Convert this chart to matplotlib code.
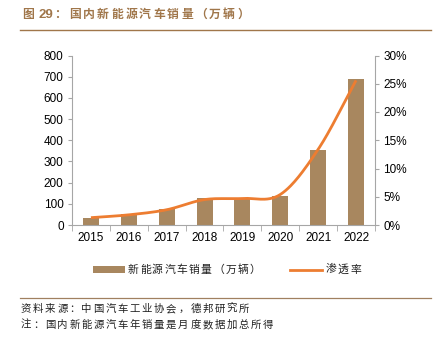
import numpy as np
import matplotlib
matplotlib.use("Agg")
import matplotlib.pyplot as plt
from matplotlib.patches import Rectangle
from matplotlib.lines import Line2D
from matplotlib.ticker import FuncFormatter, FixedLocator

plt.rcParams['font.family'] = ['Liberation Sans', 'Noto Sans CJK SC', 'DejaVu Sans']

years = ["2015", "2016", "2017", "2018", "2019", "2020", "2021", "2022"]
sales = [33.1, 50.7, 77.7, 125.6, 120.6, 136.7, 352.1, 688.7]       # 万辆
penetration = [1.3, 1.8, 2.7, 4.5, 4.7, 5.4, 13.4, 25.6]             # %

title_prefix = "图"
title_number = "29"
title_body = "国内新能源汽车销量（万辆）"
legend_labels = ["新能源汽车销量（万辆）", "渗透率"]
source_note = "资料来源：中国汽车工业协会，德邦研究所"
footnote = "注：国内新能源汽车年销量是月度数据加总所得"

BAR_COLOR = "#A8875F"
LINE_COLOR = "#ED7D31"
TITLE_COLOR = "#A0764A"
AXIS_COLOR = "#A6A6A6"

W, H = 435, 344


def fx(px):
    return px / W


def fy(py):
    return 1 - py / H


def smooth_curve(x, y, n=30):
    """Bezier smoothing through consecutive points (Catmull-Rom tangents)."""
    x = np.asarray(x, float)
    y = np.asarray(y, float)
    px = np.concatenate([[2 * x[0] - x[1]], x, [2 * x[-1] - x[-2]]])
    py = np.concatenate([[2 * y[0] - y[1]], y, [2 * y[-1] - y[-2]]])
    xs, ys = [], []
    t = np.linspace(0, 1, n)
    for i in range(1, len(px) - 2):
        p0, p1, p2, p3 = (np.array([px[j], py[j]]) for j in range(i - 1, i + 3))
        c1 = p1 + (p2 - p0) / 6
        c2 = p2 - (p3 - p1) / 6
        b = ((1 - t) ** 3)[:, None] * p1 + (3 * (1 - t) ** 2 * t)[:, None] * c1 \
            + (3 * (1 - t) * t ** 2)[:, None] * c2 + (t ** 3)[:, None] * p2
        xs.append(b[:, 0])
        ys.append(b[:, 1])
    return np.concatenate(xs), np.concatenate(ys)


def spaced_text(fig, x0, y, s, pitch, **kw):
    """Draw CJK text with a fixed character pitch (pixels)."""
    for i, ch in enumerate(s):
        fig.text(fx(x0 + i * pitch + pitch / 2), fy(y), ch, ha='center', va='center', **kw)


fig = plt.figure(figsize=(W / 100, H / 100), dpi=100)
ax = fig.add_axes([fx(72), fy(225), fx(375) - fx(72), fy(55.5) - fy(225)])
ax2 = ax.twinx()

x = np.arange(len(years))
ax.bar(x, sales, width=0.42, color=BAR_COLOR, zorder=2)
ax.set_xlim(-0.5, len(years) - 0.5)
ax.set_ylim(0, 800)
ax.set_yticks(range(0, 801, 100))
ax.set_xticks(x)
ax.set_xticklabels(years)
ax.xaxis.set_minor_locator(FixedLocator(np.arange(-0.5, len(years), 1.0)))
ax.tick_params(axis='x', which='major', length=0, pad=5, labelsize=8.5)
ax.tick_params(axis='x', which='minor', length=4, color=AXIS_COLOR, direction='out')
ax.tick_params(axis='y', length=3, color=AXIS_COLOR, labelsize=8.5, pad=3)

sx, sy = smooth_curve(x, penetration)
ax2.plot(sx, sy, color=LINE_COLOR, lw=2.0, zorder=3, solid_capstyle='butt')
ax2.set_ylim(0, 30)
ax2.set_yticks(range(0, 31, 5))
ax2.yaxis.set_major_formatter(FuncFormatter(lambda v, p: f"{int(v)}%"))
ax2.tick_params(axis='y', length=3, color=AXIS_COLOR, labelsize=8.5, pad=3)

for a in (ax, ax2):
    a.spines["top"].set_visible(False)
    for s in ("left", "right", "bottom"):
        a.spines[s].set_color(AXIS_COLOR)
        a.spines[s].set_linewidth(0.8)
ax.spines["right"].set_visible(False)
ax2.spines["left"].set_visible(False)
ax2.spines["bottom"].set_visible(False)

# Title and rules
tkw = dict(color=TITLE_COLOR, fontsize=8.5, fontweight='bold')
fig.text(fx(22), fy(15), title_prefix, ha='left', va='center', **tkw)
fig.text(fx(38.5), fy(15), title_number, ha='left', va='center', fontsize=9.5,
         color=TITLE_COLOR, fontweight='bold')
fig.text(fx(54), fy(15), "：", ha='left', va='center', **tkw)
spaced_text(fig, 68, 15, title_body, 14.0, **tkw)
fig.add_artist(Line2D([fx(20), fx(431)], [fy(30), fy(30)], color=TITLE_COLOR, lw=1.0))
fig.add_artist(Line2D([fx(20), fx(431)], [fy(298), fy(298)], color="#A08060", lw=0.9))

# Legend
fig.add_artist(Rectangle((fx(93), fy(272.5)), fx(125) - fx(93), fy(266) - fy(272.5),
                         facecolor=BAR_COLOR, edgecolor='none', transform=fig.transFigure))
spaced_text(fig, 127, 269.5, legend_labels[0], 12.2, fontsize=7.8, color="#222222")
fig.add_artist(Line2D([fx(290), fx(322)], [fy(269.5), fy(269.5)], color=LINE_COLOR, lw=2.0))
spaced_text(fig, 325, 269.5, legend_labels[1], 12.2, fontsize=7.8, color="#222222")

# Notes
spaced_text(fig, 20, 309, source_note, 12.1, fontsize=7.5, color="#222222")
spaced_text(fig, 20, 325, footnote, 12.1, fontsize=7.5, color="#222222")

fig.savefig("out.png", dpi=100)
